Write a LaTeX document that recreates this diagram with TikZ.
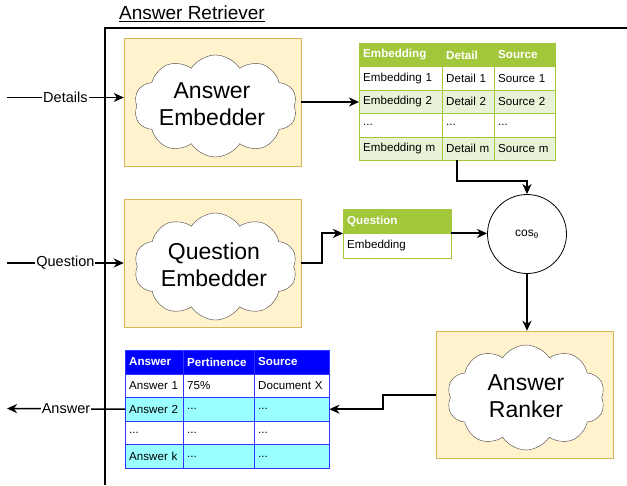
\documentclass[tikz,border=0pt]{standalone}
\usepackage{fontspec}
\setmainfont{Liberation Sans}
\usetikzlibrary{shapes.symbols, arrows.meta, calc}

\definecolor{boxfill}{HTML}{FFF2CC}
\definecolor{boxline}{HTML}{D6B656}
\definecolor{hdgreen}{HTML}{A2C73B}
\definecolor{rowgreen}{HTML}{E8F2D6}
\definecolor{hdblue}{HTML}{0000FF}
\definecolor{lineblue}{HTML}{3333FF}
\definecolor{rowcyan}{HTML}{99FFFF}

\newcommand{\more}{...}

\begin{document}
\begin{tikzpicture}[x=1pt,y=-1pt]

% Define styles
\tikzstyle{module}=[draw=boxline, fill=boxfill, minimum width=177pt, inner sep=0pt]
\tikzstyle{cloudy}=[cloud, draw=black!75, fill=white, cloud puffs=10, cloud puff arc=115, cloud ignores aspect, inner sep=0pt]
\tikzstyle{big}=[font=\fontsize{23}{27}\selectfont, align=center]
\tikzstyle{flow}=[line width=2pt, -{Stealth[length=10pt, width=9pt, inset=3pt]}]
\tikzstyle{inflow}=[line width=1.5pt, -{Stealth[length=10pt, width=9pt, inset=3pt]}]
\tikzstyle{iolabel}=[fill=white, inner sep=1pt, font=\fontsize{14.5}{16}\selectfont]
\tikzstyle{cell}=[anchor=north west, inner xsep=4pt, inner ysep=0pt, align=left, font=\fontsize{11.6}{13}\selectfont]
\tikzstyle{ghead}=[draw=hdgreen, fill=hdgreen, text=white, font=\fontsize{11.6}{13}\selectfont\bfseries]
\tikzstyle{bhead}=[draw=lineblue, fill=hdblue, text=white, font=\fontsize{11.6}{13}\selectfont\bfseries]

\useasboundingbox (0,0) rectangle (627,485);

% Frame and title
\draw[line width=2pt] (105,485) -- (105,28) -- (627,28);
\node[font=\fontsize{19}{22}\selectfont] (title) at (192,14) {\underline{Answer Retriever}};

% Modules
\node[module, minimum height=128pt] (aebox) at (212.5,102) {};
\node[cloudy, minimum width=163pt, minimum height=102pt] (aecloud) at (215.5,106) {};
\node[big] (aetext) at (212,104) {Answer\\Embedder};

\node[module, minimum height=128pt] (qebox) at (212.5,263) {};
\node[cloudy, minimum width=163pt, minimum height=107pt] (qecloud) at (215.5,266.5) {};
\node[big] (qetext) at (214,265) {Question\\Embedder};

\node[module, minimum height=127pt] (arbox) at (525,394.5) {};
\node[cloudy, minimum width=158pt, minimum height=105pt] (arcloud) at (526,397.5) {};
\node[big] (artext) at (526,396) {Answer\\Ranker};

% Details table
\def\gx{{359,442,494}}
\def\gw{{83,52,61}}
\foreach \r/\rowfill/\ta/\tb/\tc in {
  1/white/Embedding 1/Detail 1/Source 1,
  2/rowgreen/Embedding 2/Detail 2/Source 2,
  3/white/\more/\more/\more,
  4/rowgreen/Embedding m/Detail m/Source m
} {
  \foreach \t [count=\c] in {\ta,\tb,\tc} {
    \pgfmathsetmacro{\x}{\gx[\c-1]}
    \pgfmathsetmacro{\tw}{\gw[\c-1]-8}
    \node[cell, draw=hdgreen, fill=\rowfill, minimum height=23.4pt, text width=\tw pt] (g-\r-\c) at (\x,43+23.4*\r) {\mbox{\t}};
  }
}
\foreach \t [count=\c] in {Embedding,Detail,Source} {
  \pgfmathsetmacro{\x}{\gx[\c-1]}
  \pgfmathsetmacro{\tw}{\gw[\c-1]-8}
  \node[cell, ghead, minimum height=23.4pt, text width=\tw pt] (g-0-\c) at (\x,43) {\mbox{\t}};
}

% Question table
\node[cell, draw=hdgreen, fill=white, minimum height=25pt, text width=100pt] (qr) at (343,233) {Embedding};
\node[cell, ghead, minimum height=24pt, text width=100pt] (qh) at (343,209) {Question};

% Similarity
\node[draw, circle, line width=0.8pt, fill=white, minimum size=79pt, font=\fontsize{12}{14}\selectfont] (cosnode) at (527,234) {cos\textsubscript{θ}};

% Answer table
\def\bx{{125,183,254}}
\def\bw{{58,71,75}}
\foreach \r/\rowfill/\ta/\tb/\tc in {
  1/white/Answer 1/75\%/Document X,
  2/rowcyan/Answer 2/\more/\more,
  3/white/\more/\more/\more,
  4/rowcyan/Answer k/\more/\more
} {
  \foreach \t [count=\c] in {\ta,\tb,\tc} {
    \pgfmathsetmacro{\x}{\bx[\c-1]}
    \pgfmathsetmacro{\tw}{\bw[\c-1]-8}
    \node[cell, draw=lineblue, fill=\rowfill, minimum height=23.6pt, text width=\tw pt] (b-\r-\c) at (\x,350+23.6*\r) {\mbox{\t}};
  }
}
\foreach \t [count=\c] in {Answer,Pertinence,Source} {
  \pgfmathsetmacro{\x}{\bx[\c-1]}
  \pgfmathsetmacro{\tw}{\bw[\c-1]-8}
  \node[cell, bhead, minimum height=23.6pt, text width=\tw pt] (b-0-\c) at (\x,350) {\mbox{\t}};
}

% Inputs and output
\coordinate (din) at (7,97.5);
\coordinate (qin) at (7,263);
\coordinate (aout) at (7,408.5);
\draw[inflow] (din) -- (din -| aebox.west) node[iolabel, midway] (dlabel) {Details};
\draw[inflow] (qin) -- (qebox.west) node[iolabel, midway] (qlabel) {Question};
\draw[inflow] (b-2-1.west) -- (aout) node[iolabel, midway] (alabel) {Answer};

% Flow
\coordinate (gbot) at ($(g-4-1.south west)!0.5!(g-4-3.south east)$);
\draw[flow] (aebox.east) -- (aebox.east -| g-2-1.west);
\draw[flow] (qebox.east) -- ++(21,0) |- (qh.south west);
\draw[flow] (qh.south east) -- (qh.south east -| cosnode.west);
\draw[flow] (gbot) -- ++(0,21) -| (cosnode.north);
\draw[flow] (cosnode.south) -- (cosnode.south |- arbox.north);
\draw[flow] (arbox.west) -- ++(-53,0) |- (b-2-3.east);

\end{tikzpicture}
\end{document}
